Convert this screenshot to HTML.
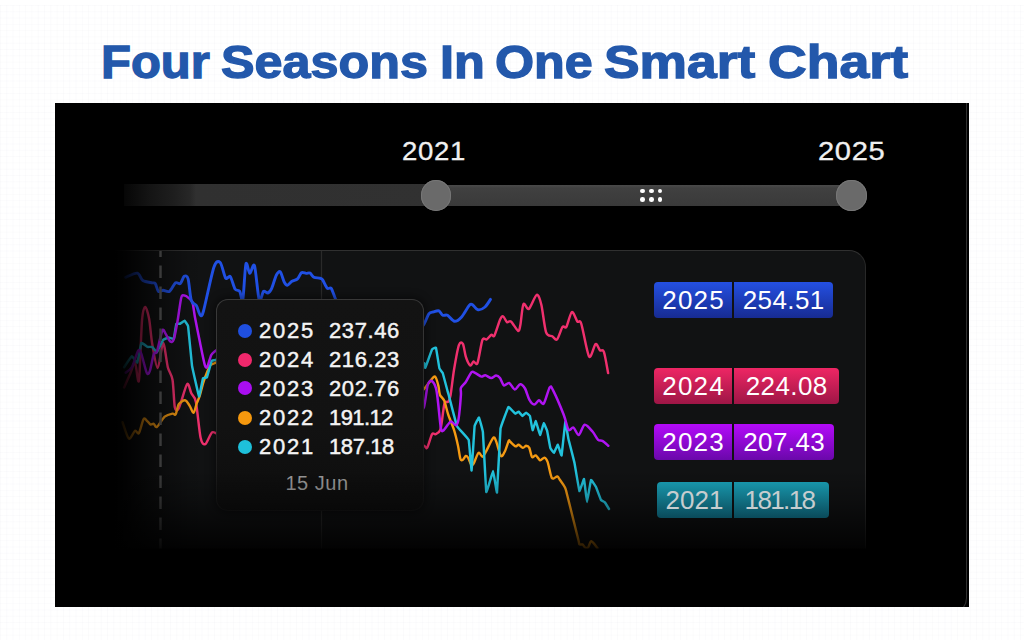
<!DOCTYPE html>
<html><head><meta charset="utf-8">
<style>
*{margin:0;padding:0;box-sizing:border-box;}
html,body{width:1024px;height:640px;overflow:hidden;background:#fff;font-family:"Liberation Sans",sans-serif;}
.a{position:absolute;}
#bg{left:0;top:5px;width:1024px;height:635px;
background-image:linear-gradient(to right, rgba(200,200,215,0.07) 1px, transparent 1px),linear-gradient(to bottom, rgba(200,200,215,0.07) 1px, transparent 1px);
background-size:6.3px 6.3px;}
.tw{top:35.9px;transform-origin:0 0;color:#2358ab;font-weight:bold;font-size:46px;line-height:53px;white-space:nowrap;-webkit-text-stroke:1.3px #2358ab;}
#panel{left:54.7px;top:102.5px;width:914.3px;height:504.3px;background:#000;overflow:hidden;}
#edge{left:800px;top:-10px;width:112px;height:521px;border-right:1.5px solid #303030;border-bottom:1.5px solid #303030;border-bottom-right-radius:16px;}
.lbl{color:#f0f0f0;font-size:26px;line-height:30px;letter-spacing:1.6px;white-space:nowrap;-webkit-text-stroke:0.3px #f0f0f0;}
#trackL{left:124px;top:184px;width:314px;height:22px;background:linear-gradient(to right,#060606 0px,#141414 25px,#1e1e1e 50px,#272727 66px,#303030 72px,#313131 314px);}
#trackR{left:436px;top:184.5px;width:416px;height:21.5px;background:linear-gradient(to bottom,#4a4a4a 0,#404040 15%,#3a3a3a 100%);}
.knob{width:30.5px;height:30.5px;border-radius:50%;background:#6a6a6a;box-shadow:inset 0 0 0 1px #777;}
.dot{width:4.6px;height:4.6px;border-radius:50%;background:#fff;}
#cp{left:60px;top:249.5px;width:806px;height:299px;background:#111213;border:1.5px solid #282828;border-top-color:#303030;border-bottom:none;border-radius:17px 17px 0 0;}
#tt{left:216px;top:298.7px;width:207.5px;height:212.5px;border:1.5px solid transparent;border-radius:12px;background:linear-gradient(#131313 0,#121212 60%,#0d0d0d 100%) padding-box,linear-gradient(170deg,#3a3a3a 0%,#333 35%,#222 60%,#141414 85%) border-box;box-shadow:0 0 8px 2px rgba(0,0,0,0.45);}
.tdot{width:14px;height:14px;border-radius:50%;}
.trow{color:#f4f4f4;font-size:22px;font-weight:normal;-webkit-text-stroke:0.45px #f4f4f4;letter-spacing:1.8px;line-height:24px;white-space:nowrap;}
#fadeL{left:55px;top:240px;width:160px;height:367px;background:linear-gradient(to right,#000 0px,#000 60px,rgba(0,0,0,0.9) 70px,rgba(0,0,0,0.6) 90px,rgba(0,0,0,0.25) 115px,rgba(0,0,0,0.06) 135px,rgba(0,0,0,0) 150px);}
#fadeB{left:55px;top:470px;width:880px;height:137px;background:linear-gradient(to bottom,rgba(0,0,0,0) 0px,rgba(0,0,0,0.25) 30px,rgba(0,0,0,0.55) 55px,rgba(0,0,0,0.8) 75px,rgba(0,0,0,0.85) 78px,#000 79px);}
.badge{height:36px;border-radius:4px;color:#fff;font-size:26px;line-height:37px;white-space:nowrap;}
.bl{letter-spacing:1.2px;text-indent:1.2px;}
.br{letter-spacing:0.4px;text-indent:0.4px;}
.bl{position:absolute;left:0;top:0;height:36px;text-align:center;border-radius:4px 0 0 4px;}
.br{position:absolute;top:0;height:36px;text-align:center;border-radius:0 4px 4px 0;}
</style></head>
<body>
<div id="bg" class="a"></div>
<div class="a tw" style="left:100.7px;transform:scaleX(1.065)">Four</div>
<div class="a tw" style="left:220.9px;transform:scaleX(1.094)">Seasons</div>
<div class="a tw" style="left:439.5px;transform:scaleX(1.097)">In</div>
<div class="a tw" style="left:495.0px;transform:scaleX(1.093)">One</div>
<div class="a tw" style="left:604.2px;transform:scaleX(1.160)">Smart</div>
<div class="a tw" style="left:767.6px;transform:scaleX(1.166)">Chart</div>
<div id="panel" class="a"><div id="edge" class="a"></div></div>

<div class="a lbl" style="left:402px;top:136px;letter-spacing:0.6px;transform:scaleX(1.06);transform-origin:0 0;">2021</div>
<div class="a lbl" style="left:817.5px;top:136px;letter-spacing:0.6px;transform:scaleX(1.12);transform-origin:0 0;">2025</div>
<div id="trackL" class="a"></div>
<div id="trackR" class="a"></div>
<div class="a dot" style="left:640.4px;top:188.6px"></div>
<div class="a dot" style="left:649px;top:188.6px"></div>
<div class="a dot" style="left:657.5px;top:188.6px"></div>
<div class="a dot" style="left:640.4px;top:197.2px"></div>
<div class="a dot" style="left:649px;top:197.2px"></div>
<div class="a dot" style="left:657.5px;top:197.2px"></div>
<div class="a knob" style="left:420.7px;top:180px"></div>
<div class="a knob" style="left:836.3px;top:180px"></div>

<div id="cp" class="a"></div>
<svg class="a" style="left:0;top:0" width="1024" height="640" viewBox="0 0 1024 640">
<line x1="321.5" y1="251" x2="321.5" y2="560" stroke="#2a2a2a" stroke-width="1.2"/>
<path d="M124.1,387.5 C125.0,385.5 128.7,377.0 130.3,373.4 C131.9,369.8 133.8,361.5 135.0,362.5 C136.2,363.5 137.9,386.5 138.9,380.5 C139.9,374.5 141.1,330.8 142.0,320.3 C142.9,309.8 144.2,307.2 145.2,307.0 C146.2,306.8 148.1,313.5 149.1,318.8 C150.1,324.1 151.0,336.8 152.2,343.8 C153.4,350.8 156.1,368.1 157.7,368.0 C159.3,367.9 161.7,343.1 163.1,343.0 C164.5,342.9 166.5,362.0 167.8,367.2 C169.1,372.4 171.5,374.0 172.5,379.7 C173.5,385.4 174.0,403.0 174.8,407.3 C175.6,411.6 177.1,410.5 178.0,409.7 C178.9,408.9 179.8,405.6 181.1,401.9 C182.4,398.2 185.8,385.1 187.3,383.9 C188.8,382.7 190.1,390.7 191.3,393.3 C192.5,395.9 194.6,395.5 195.9,401.9 C197.2,408.3 199.3,431.8 200.6,437.8 C201.9,443.8 203.6,444.9 205.3,444.1 C207.0,443.3 210.2,433.5 212.3,432.3 C214.4,431.1 218.9,435.5 220.0,436.0" fill="none" stroke="#f0306e" stroke-width="2.45" stroke-linejoin="round" stroke-linecap="round"/>
<path d="M418.0,444.0 C418.9,444.3 423.0,445.3 424.3,445.8 C425.6,446.3 426.1,449.4 427.2,447.7 C428.3,446.0 430.9,436.0 432.1,434.1 C433.3,432.2 434.3,434.7 435.5,434.1 C436.7,433.5 439.3,433.1 440.4,429.7 C441.5,426.3 442.7,414.5 443.3,410.6 C443.9,406.7 444.1,403.6 444.8,402.3 C445.5,401.0 447.4,402.8 448.2,401.8 C449.0,400.8 449.8,399.6 450.6,395.0 C451.4,390.4 452.9,376.5 454.1,369.3 C455.3,362.1 457.7,348.5 459.0,344.9 C460.3,341.3 461.9,342.2 462.9,343.9 C463.9,345.6 464.8,353.5 465.8,356.6 C466.8,359.7 469.1,364.7 470.2,365.4 C471.3,366.1 472.6,361.8 473.6,361.5 C474.6,361.2 476.2,366.1 477.5,363.0 C478.8,359.9 481.1,343.4 482.4,340.0 C483.7,336.6 485.3,340.2 486.6,339.5 C487.9,338.8 490.2,335.4 491.3,334.8 C492.4,334.2 493.2,337.7 494.4,335.6 C495.6,333.5 498.8,322.6 500.0,319.8 C501.2,317.0 502.1,316.0 503.1,316.3 C504.1,316.6 505.9,321.5 507.0,322.2 C508.1,322.9 509.3,320.2 510.9,321.4 C512.5,322.6 516.7,330.2 518.0,330.8 C519.3,331.4 519.5,329.1 520.3,325.3 C521.1,321.5 522.2,306.5 523.4,304.2 C524.6,301.9 527.0,310.2 528.9,308.9 C530.8,307.6 534.9,295.4 536.7,294.8 C538.5,294.2 540.1,299.6 541.4,305.0 C542.7,310.4 544.5,327.8 546.1,332.3 C547.7,336.8 550.7,335.3 552.3,336.3 C553.9,337.3 555.5,340.7 557.0,339.4 C558.5,338.1 561.2,328.7 562.5,326.9 C563.8,325.1 565.1,329.0 566.4,326.9 C567.7,324.8 570.3,312.8 571.9,312.0 C573.5,311.2 576.0,319.7 577.3,321.4 C578.6,323.1 579.6,318.8 581.3,323.8 C583.0,328.8 587.1,353.7 589.1,356.6 C591.1,359.5 594.0,345.0 595.6,344.1 C597.2,343.2 598.8,349.2 600.0,350.3 C601.2,351.4 602.7,348.7 603.9,351.9 C605.1,355.1 607.5,370.0 608.1,373.0" fill="none" stroke="#f0306e" stroke-width="2.45" stroke-linejoin="round" stroke-linecap="round"/>
<path d="M122.5,422.2 C123.4,424.5 127.0,437.4 128.8,438.6 C130.6,439.8 133.6,431.6 135.0,430.8 C136.4,430.0 137.7,434.8 138.9,433.1 C140.1,431.4 142.4,420.8 143.6,419.1 C144.8,417.4 146.5,420.6 147.5,421.4 C148.5,422.2 149.7,424.2 150.6,424.5 C151.5,424.8 152.9,423.5 153.8,423.8 C154.7,424.1 155.3,427.9 156.9,426.9 C158.5,425.9 162.5,418.6 164.7,416.7 C166.9,414.8 170.9,413.9 172.5,413.6 C174.1,413.3 174.7,415.7 175.6,414.4 C176.5,413.1 177.5,406.2 178.8,404.2 C180.1,402.2 183.4,400.1 185.0,400.3 C186.6,400.5 188.5,404.0 189.7,405.8 C190.9,407.6 192.6,413.1 193.6,412.8 C194.6,412.5 195.8,405.9 196.7,403.4 C197.6,400.9 198.8,398.8 199.8,395.6 C200.8,392.4 202.3,385.3 203.8,381.0 C205.3,376.7 208.4,368.1 210.0,365.6 C211.6,363.1 213.3,364.1 214.7,363.3 C216.1,362.5 219.2,360.5 220.0,360.0" fill="none" stroke="#f59a12" stroke-width="2.4" stroke-linejoin="round" stroke-linecap="round"/>
<path d="M418.0,395.0 C418.9,394.1 422.2,391.2 424.3,388.8 C426.4,386.4 431.0,379.8 432.6,378.1 C434.2,376.4 434.7,376.0 435.5,377.1 C436.3,378.2 437.8,383.4 438.4,385.9 C439.0,388.4 439.1,392.6 439.9,394.7 C440.7,396.8 443.1,398.1 444.3,400.9 C445.5,403.7 446.8,410.3 448.2,414.5 C449.6,418.7 452.7,425.7 454.1,430.2 C455.5,434.7 457.1,441.7 458.0,445.8 C458.9,449.9 459.7,456.8 460.4,458.8 C461.1,460.8 462.1,460.2 462.9,459.8 C463.7,459.4 465.0,456.2 465.8,455.9 C466.6,455.6 467.4,456.6 468.2,457.8 C469.0,459.0 470.4,463.8 471.2,464.6 C472.0,465.4 472.6,465.4 473.6,463.7 C474.6,462.0 477.2,453.9 478.5,452.9 C479.8,451.9 481.4,456.9 482.4,456.8 C483.4,456.7 484.3,454.7 485.8,452.0 C487.3,449.3 491.6,439.6 493.1,438.0 C494.6,436.4 494.9,438.3 496.0,440.9 C497.1,443.5 499.6,454.4 500.9,455.9 C502.2,457.4 503.7,453.6 504.8,451.5 C505.9,449.4 508.0,442.3 508.7,440.9 C509.4,439.5 509.0,440.7 510.0,441.5 C511.0,442.3 514.2,445.8 515.4,446.3 C516.6,446.8 517.5,444.5 518.6,444.7 C519.7,444.9 521.8,447.7 522.9,447.9 C524.0,448.1 525.2,445.8 526.1,445.8 C527.0,445.8 528.5,446.3 529.3,447.9 C530.1,449.5 531.1,456.0 532.0,457.1 C532.9,458.2 534.6,454.9 535.8,455.4 C537.0,455.9 538.9,460.0 540.1,460.3 C541.3,460.6 543.3,457.4 544.4,457.6 C545.5,457.8 546.5,459.0 547.6,461.9 C548.7,464.8 550.5,475.9 551.9,478.0 C553.3,480.1 556.1,476.1 557.3,476.4 C558.5,476.7 558.9,478.4 560.0,480.0 C561.1,481.6 563.9,485.2 565.0,487.5 C566.1,489.8 565.6,489.0 567.5,496.3 C569.4,503.6 576.4,531.9 578.1,538.8 C579.8,545.7 578.8,543.6 579.4,544.4 C580.0,545.2 581.7,544.0 582.5,544.4 C583.3,544.8 584.2,547.1 585.0,547.5 C585.8,547.9 587.2,548.4 588.1,547.5 C589.0,546.6 590.0,541.2 591.3,541.3 C592.6,541.4 596.6,547.1 597.5,548.1" fill="none" stroke="#f59a12" stroke-width="2.4" stroke-linejoin="round" stroke-linecap="round"/>
<path d="M124.1,367.2 C124.3,366.9 131.5,356.4 131.9,356.3 C132.3,356.2 137.0,362.9 137.3,362.5 C137.6,362.1 141.0,343.5 141.3,343.0 C141.6,342.5 147.2,346.8 147.5,346.9 C147.8,347.0 151.9,346.7 152.2,346.9 C152.5,347.1 156.6,352.5 156.9,352.3 C157.2,352.1 162.7,340.2 163.1,339.8 C163.5,339.4 168.3,337.5 168.6,337.5 C168.9,337.5 173.6,339.2 173.8,338.8 C174.0,338.4 176.1,324.2 176.3,323.8 C176.5,323.4 179.8,323.9 180.0,323.8 C180.2,323.7 184.2,320.5 184.4,320.6 C184.6,320.7 187.9,324.9 188.1,326.3 C188.3,327.7 191.7,363.5 192.0,365.6 C192.3,367.7 198.7,396.0 199.0,396.4 C199.3,396.8 202.8,378.7 203.0,378.1 C203.2,377.5 206.6,377.8 206.9,377.3 C207.2,376.8 211.4,361.4 211.6,360.9 C211.8,360.4 214.4,360.3 214.7,360.2 C215.0,360.1 219.8,359.0 220.0,359.0" fill="none" stroke="#22c2dc" stroke-width="2.45" stroke-linejoin="round" stroke-linecap="round"/>
<path d="M418.0,370.0 C418.2,369.8 424.1,363.5 424.3,363.4 C424.5,363.3 425.1,368.2 425.3,367.8 C425.5,367.4 431.8,349.9 432.1,349.3 C432.4,348.7 435.8,347.2 436.0,347.8 C436.2,348.4 439.2,367.5 439.4,368.3 C439.6,369.1 442.6,372.6 442.8,373.2 C443.0,373.8 447.0,389.1 447.2,389.8 C447.4,390.5 448.4,393.9 448.7,395.0 C449.0,396.1 456.4,424.9 457.0,426.2 C457.6,427.5 468.3,438.6 468.7,439.9 C469.1,441.2 471.4,470.9 471.6,470.5 C471.8,470.1 474.4,427.8 474.6,426.2 C474.8,424.6 478.8,417.3 479.0,417.5 C479.2,417.7 482.7,429.9 482.9,432.1 C483.1,434.3 486.0,490.8 486.3,492.0 C486.6,493.2 492.8,471.0 493.1,471.0 C493.4,471.0 496.8,493.8 497.0,492.5 C497.2,491.2 500.2,431.3 500.5,428.7 C500.8,426.1 508.0,407.8 508.3,407.2 C508.6,406.6 509.8,408.1 510.0,408.3 C510.2,408.5 515.1,413.6 515.4,413.7 C515.7,413.8 518.4,411.5 518.6,411.6 C518.8,411.7 522.2,415.9 522.4,415.9 C522.6,415.9 525.9,412.6 526.1,412.6 C526.3,412.6 529.7,415.4 529.9,415.9 C530.1,416.4 532.4,430.0 532.6,430.2 C532.8,430.4 535.6,421.0 535.8,421.1 C536.0,421.2 539.9,434.9 540.1,435.0 C540.3,435.1 543.6,423.3 543.8,423.2 C544.0,423.1 546.9,430.0 547.1,430.7 C547.3,431.4 550.1,447.2 550.3,447.9 C550.5,448.6 553.8,452.9 554.0,452.8 C554.2,452.7 557.6,444.6 557.8,444.7 C558.0,444.8 561.4,456.1 561.6,455.4 C561.8,454.7 565.1,422.6 565.3,422.1 C565.5,421.6 568.2,438.1 568.5,439.3 C568.8,440.5 574.2,461.4 574.5,463.0 C574.8,464.6 579.1,490.5 579.4,491.0 C579.7,491.5 583.8,478.7 584.0,479.0 C584.2,479.3 586.8,502.0 587.0,502.0 C587.2,502.0 590.7,480.4 591.0,480.0 C591.3,479.6 595.7,486.4 596.0,487.0 C596.3,487.6 600.7,499.5 601.0,500.0 C601.3,500.5 604.8,502.2 605.0,502.5 C605.2,502.8 608.9,508.8 609.0,509.0" fill="none" stroke="#22c2dc" stroke-width="2.45" stroke-linejoin="round" stroke-linecap="round"/>
<path d="M125.6,372.7 C126.5,371.9 130.1,370.3 131.9,367.2 C133.7,364.1 136.8,352.7 138.1,350.8 C139.4,348.9 140.1,350.8 141.3,353.9 C142.5,357.0 145.5,370.2 146.7,372.7 C147.9,375.2 148.8,373.8 149.8,371.1 C150.8,368.4 152.8,356.7 153.8,353.9 C154.8,351.1 155.7,354.9 156.9,351.6 C158.1,348.3 161.1,333.1 162.3,330.5 C163.5,327.9 164.4,332.0 165.5,333.6 C166.6,335.2 169.0,340.6 170.2,341.4 C171.4,342.2 172.8,342.3 173.8,339.4 C174.8,336.5 176.4,327.3 177.5,321.3 C178.6,315.3 180.3,301.2 181.3,297.5 C182.3,293.8 183.3,295.5 184.4,295.6 C185.5,295.7 187.6,297.1 188.8,298.1 C190.0,299.1 191.6,299.7 192.5,302.5 C193.4,305.3 193.9,311.8 195.0,317.5 C196.1,323.2 198.6,335.6 200.0,342.5 C201.4,349.4 203.9,362.2 205.0,365.6 C206.1,369.0 206.6,367.8 207.5,366.3 C208.4,364.8 210.2,357.1 211.3,355.0 C212.4,352.9 213.8,352.3 215.0,351.3 C216.2,350.3 219.3,348.5 220.0,348.0" fill="none" stroke="#b014f2" stroke-width="2.5" stroke-linejoin="round" stroke-linecap="round"/>
<path d="M418.0,415.0 C418.9,413.9 422.6,411.3 424.0,407.0 C425.4,402.7 426.6,388.6 427.7,384.9 C428.8,381.2 430.4,380.5 431.6,381.0 C432.8,381.5 435.1,385.3 436.0,388.3 C436.9,391.3 437.3,396.3 438.0,402.0 C438.7,407.7 440.1,424.1 440.9,428.2 C441.7,432.3 442.3,431.2 443.3,430.6 C444.3,430.0 447.1,425.6 448.2,424.3 C449.3,423.0 450.0,421.3 451.1,421.4 C452.2,421.5 454.9,425.6 456.0,425.3 C457.1,425.0 457.8,423.7 458.5,419.4 C459.2,415.1 460.6,399.5 460.9,395.0 C461.2,390.5 460.2,389.8 460.9,387.9 C461.6,386.0 464.3,384.2 465.8,382.0 C467.3,379.8 470.2,373.5 471.6,372.2 C473.0,370.9 474.1,372.6 475.5,373.2 C476.9,373.8 480.0,376.3 481.4,376.6 C482.8,376.9 483.9,375.0 485.3,375.2 C486.7,375.4 489.7,378.0 491.2,378.1 C492.7,378.2 494.8,375.6 496.1,375.6 C497.4,375.6 498.9,376.7 500.0,378.1 C501.1,379.5 502.6,384.7 503.9,385.4 C505.2,386.1 507.6,382.4 509.2,383.0 C510.8,383.6 513.2,389.3 514.8,389.5 C516.4,389.7 518.7,384.3 520.2,384.2 C521.7,384.1 523.7,386.3 525.0,388.5 C526.3,390.7 528.0,397.4 529.3,399.7 C530.6,402.0 532.8,404.5 534.2,404.6 C535.6,404.7 537.6,400.5 539.0,400.3 C540.4,400.1 542.3,405.3 543.8,403.5 C545.3,401.7 548.4,389.3 549.7,387.4 C551.0,385.5 551.0,386.2 553.0,390.1 C555.0,394.0 561.5,409.1 563.7,414.8 C565.9,420.5 567.1,427.9 568.5,429.7 C569.9,431.5 571.9,426.7 573.4,427.5 C574.9,428.3 577.2,435.4 578.8,435.0 C580.4,434.6 582.7,425.3 584.7,424.8 C586.7,424.3 590.8,429.6 592.7,431.8 C594.6,434.0 596.7,438.6 598.1,439.9 C599.5,441.2 600.9,440.1 602.4,440.9 C603.9,441.7 607.5,445.1 608.3,445.8" fill="none" stroke="#b014f2" stroke-width="2.5" stroke-linejoin="round" stroke-linecap="round"/>
<path d="M125.6,277.3 C127.3,276.7 134.8,272.6 137.3,273.1 C139.8,273.6 140.7,279.1 142.8,280.5 C144.9,281.9 150.4,282.4 152.2,282.8 C154.0,283.2 154.4,282.4 155.3,283.6 C156.2,284.8 157.3,290.4 158.4,291.4 C159.5,292.4 161.5,290.3 163.1,290.3 C164.7,290.3 167.6,292.5 169.4,291.4 C171.2,290.3 174.0,283.9 175.6,282.8 C177.2,281.7 179.1,284.5 180.3,283.6 C181.5,282.7 183.1,277.0 184.2,276.3 C185.3,275.6 187.1,275.4 188.1,278.9 C189.1,282.4 190.1,296.7 191.3,300.5 C192.5,304.3 195.0,303.5 196.3,305.6 C197.6,307.7 199.3,314.2 200.3,315.0 C201.3,315.8 201.6,317.8 203.5,311.0 C205.4,304.2 211.5,274.1 213.9,267.2 C216.3,260.3 218.5,260.9 220.2,262.5 C221.9,264.1 224.2,276.1 225.6,278.1 C227.0,280.1 229.0,275.0 230.3,276.6 C231.6,278.2 233.7,286.9 235.0,289.0 C236.3,291.1 238.6,289.8 239.7,291.4 C240.8,293.0 241.9,303.9 242.8,300.0 C243.7,296.1 244.9,267.8 245.9,264.0 C246.9,260.2 248.6,273.2 249.8,273.4 C251.0,273.6 253.2,261.8 254.5,265.6 C255.8,269.4 257.9,296.3 259.2,300.0 C260.5,303.7 262.3,292.4 263.5,291.4 C264.7,290.4 266.6,293.4 267.8,293.0 C269.0,292.6 270.5,290.9 271.7,288.3 C272.9,285.7 275.2,277.3 276.4,275.0 C277.6,272.7 279.2,270.9 280.3,271.9 C281.4,272.9 283.2,280.1 284.2,282.0 C285.2,283.9 286.2,285.3 287.3,285.2 C288.4,285.1 290.5,282.2 292.0,281.3 C293.5,280.4 296.2,280.1 297.5,278.9 C298.8,277.7 300.2,273.5 301.4,272.7 C302.6,271.9 304.9,273.3 306.1,273.4 C307.3,273.5 308.9,272.5 310.0,273.1 C311.1,273.7 312.6,276.6 313.9,277.3 C315.2,278.0 318.2,277.8 319.4,278.1 C320.6,278.4 321.4,278.2 322.5,279.7 C323.6,281.2 326.0,287.1 327.2,288.3 C328.4,289.5 330.0,287.0 331.1,288.3 C332.2,289.6 333.7,294.6 335.0,297.7 C336.3,300.8 339.3,308.2 340.0,310.0" fill="none" stroke="#2050e4" stroke-width="2.9" stroke-linejoin="round" stroke-linecap="round"/>
<path d="M416.0,335.0 C417.2,333.4 422.3,326.9 424.1,323.9 C425.9,320.9 427.5,315.5 428.8,313.8 C430.1,312.1 432.0,312.3 433.4,311.9 C434.8,311.5 437.6,310.4 438.9,310.9 C440.2,311.4 441.6,314.7 442.8,315.3 C444.0,315.9 445.8,314.4 447.5,315.3 C449.2,316.2 452.5,321.1 454.5,321.3 C456.5,321.5 459.5,319.2 461.6,316.9 C463.7,314.6 467.8,306.9 469.4,305.2 C471.0,303.5 471.3,304.0 472.5,304.7 C473.7,305.4 476.2,309.5 478.0,309.8 C479.8,310.1 483.2,308.5 485.0,307.0 C486.8,305.5 489.7,300.5 490.5,299.4" fill="none" stroke="#2050e4" stroke-width="2.9" stroke-linejoin="round" stroke-linecap="round"/>
</svg>
<div id="tt" class="a"></div>
<div class="a tdot" style="left:237.5px;top:324px;background:#1f4fe0"></div>
<div class="a tdot" style="left:237.5px;top:352.7px;background:#f0286c"></div>
<div class="a tdot" style="left:237.5px;top:381.4px;background:#a90ef0"></div>
<div class="a tdot" style="left:237.5px;top:410.6px;background:#f5980e"></div>
<div class="a tdot" style="left:237.5px;top:440px;background:#1ec0da"></div>
<div class="a trow" style="left:259px;top:319px">2025</div><div class="a trow" style="left:329px;top:319px;letter-spacing:0.6px">237.46</div>
<div class="a trow" style="left:259px;top:348px">2024</div><div class="a trow" style="left:329px;top:348px;letter-spacing:0.6px">216.23</div>
<div class="a trow" style="left:259px;top:377px">2023</div><div class="a trow" style="left:329px;top:377px;letter-spacing:0.6px">202.76</div>
<div class="a trow" style="left:259px;top:406px">2022</div><div class="a trow" style="left:329px;top:406px;letter-spacing:-0.6px">191.12</div>
<div class="a trow" style="left:259px;top:435px">2021</div><div class="a trow" style="left:329px;top:435px;letter-spacing:-0.4px">187.18</div>
<div class="a" style="left:217px;top:471px;width:200px;text-align:center;color:#9a9a9a;font-size:20px;letter-spacing:0.5px;line-height:24px;">15 Jun</div>
<div id="fadeL" class="a"></div>
<svg class="a" style="left:0;top:0" width="1024" height="640"><line x1="160.5" y1="251" x2="160.5" y2="560" stroke="#3a3a3a" stroke-width="2.5" stroke-dasharray="12.5 8.5" stroke-dashoffset="6.4"/></svg>
<div id="fadeB" class="a"></div>

<div class="a badge" style="left:654px;top:282px;width:179px;">
 <div class="bl" style="width:78px;background:linear-gradient(#2450e2,#172b92);">2025</div>
 <div class="br" style="left:80px;width:99px;background:linear-gradient(#2450e2,#172b92);">254.51</div>
</div>
<div class="a badge" style="left:654px;top:368px;width:185px;">
 <div class="bl" style="width:78px;background:linear-gradient(#ee2664,#9e1646);">2024</div>
 <div class="br" style="left:80px;width:105px;background:linear-gradient(#ee2664,#9e1646);">224.08</div>
</div>
<div class="a badge" style="left:654px;top:424px;width:180px;">
 <div class="bl" style="width:78px;background:linear-gradient(#b40afa,#6a08aa);">2023</div>
 <div class="br" style="left:80px;width:100px;background:linear-gradient(#b40afa,#6a08aa);">207.43</div>
</div>
<div class="a badge" style="left:657px;top:481.5px;width:172px;color:#c6cdcf;">
 <div class="bl" style="width:75px;letter-spacing:0px;text-indent:0;background:linear-gradient(#1895aa,#0a4a5a);">2021</div>
 <div class="br" style="left:77px;width:95px;letter-spacing:-1.6px;text-indent:-4px;background:linear-gradient(#1895aa,#0a4a5a);">181.18</div>
</div>
</body></html>
